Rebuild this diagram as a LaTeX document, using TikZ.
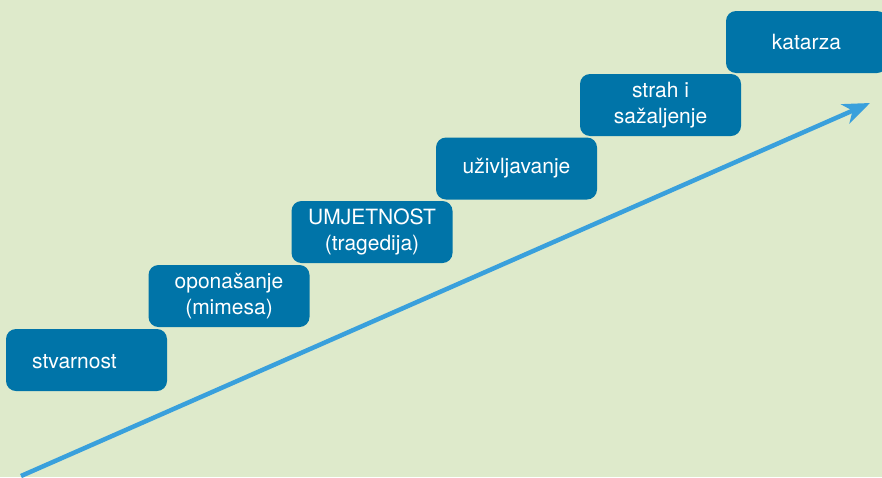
\documentclass[tikz,border=0pt]{standalone}
\usepackage{fontspec}
\setmainfont{TeX Gyre Heros}
\usetikzlibrary{arrows.meta}
\definecolor{bg}{RGB}{222,234,203}
\definecolor{boxblue}{RGB}{0,116,168}
\definecolor{arrowblue}{RGB}{57,160,220}
\tikzset{
  stepbox/.style={fill=boxblue, rounded corners=10pt, minimum width=161pt, minimum height=62pt,
    text=white, align=center, font=\fontsize{21}{26}\selectfont, inner sep=0pt},
  steptext/.style={text=white, font=\fontsize{21}{26}\selectfont, inner sep=0pt},
  rise/.style={draw=arrowblue, line width=4.5pt, -{Stealth[length=27pt,width=21pt,inset=8pt]}}
}
\begin{document}
\begin{tikzpicture}[x=1pt,y=-1pt]
\fill[bg] (0,0) rectangle (882,477);
\useasboundingbox (0,0) rectangle (882,477);
\clip (0,0) rectangle (882,477);
\node[stepbox] (s1) at (86.5,360) {};
\node[steptext, anchor=west] (t1) at (32,362) {stvarnost};
\node[stepbox] (s2) at (229,296) {oponašanje\\(mimesa)};
\node[stepbox] (s3) at (372,232) {UMJETNOST\\(tragedija)};
\node[stepbox] (s4) at (516.5,168.5) {uživljavanje};
\node[stepbox] (s5) at (660.5,105) {strah i\\sažaljenje};
\node[stepbox] (s6) at (806.5,42) {katarza};
\coordinate (a0) at (21,476);
\coordinate (a1) at (870,103);
\draw[rise] (a0) -- (a1);
\end{tikzpicture}
\end{document}
